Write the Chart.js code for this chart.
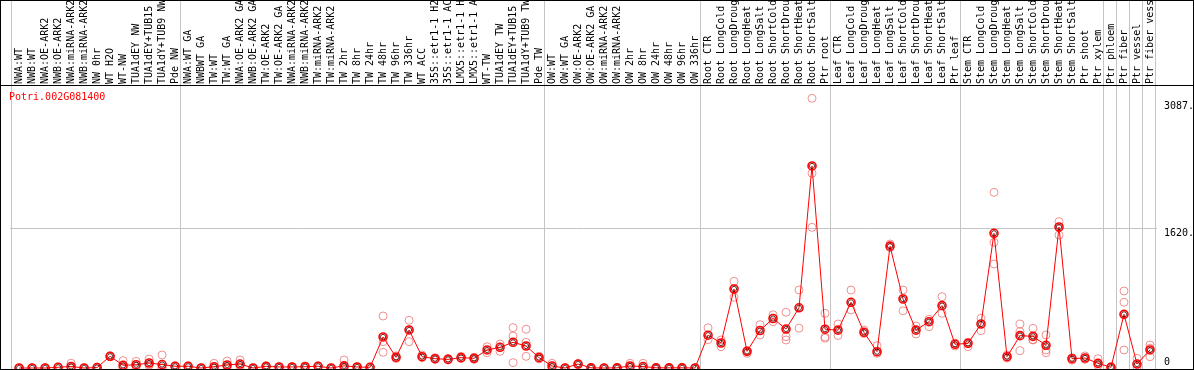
<!DOCTYPE html>
<html>
<head>
<meta charset="utf-8">
<script src="https://cdn.jsdelivr.net/npm/chart.js@4/dist/chart.umd.min.js"></script>
<style>
html,body{margin:0;padding:0;background:#fff;}
#c{display:block;}
</style>
</head>
<body>
<canvas id="c" width="1194" height="370"></canvas>
<script>
const geneName = 'Potri.002G081400';

const categories = [
 'NWA:WT','NWB:WT','NWA:OE-ARK2','NWB:OE-ARK2','NWA:miRNA-ARK2','NWB:miRNA-ARK2','NW 0hr','WT H2O','WT-NW','TUA1dEY NW','TUA1dEY+TUB15 NW','TUA1dY+TUB9 NW','Pde NW',
 'NWA:WT GA','NWBWT GA','TW:WT','TW:WT GA','NWA:OE-ARK2 GA','NWB:OE-ARK2 GA','TW:OE-ARK2','TW:OE-ARK2 GA','NWA:miRNA-ARK2','NWB:miRNA-ARK2','TW:miRNA-ARK2','TW:miRNA-ARK2','TW 2hr','TW 8hr','TW 24hr','TW 48hr','TW 96hr','TW 336hr','WT ACC','35S::etr1-1 H2O','35S::etr1-1 ACC','LMX5::etr1-1 H2O','LMX5::etr1-1 ACC','WT-TW','TUA1dEY TW','TUA1dEY+TUB15 TW','TUA1dY+TUB9 TW','Pde TW',
 'OW:WT','OW:WT GA','OW:OE-ARK2','OW:OE-ARK2 GA','OW:miRNA-ARK2','OW:miRNA-ARK2','OW 2hr','OW 8hr','OW 24hr','OW 48hr','OW 96hr','OW 336hr',
 'Root CTR','Root LongCold','Root LongDrought','Root LongHeat','Root LongSalt','Root ShortCold','Root ShortDrought','Root ShortHeat','Root ShortSalt','Ptr root',
 'Leaf CTR','Leaf LongCold','Leaf LongDrought','Leaf LongHeat','Leaf LongSalt','Leaf ShortCold','Leaf ShortDrought','Leaf ShortHeat','Leaf ShortSalt','Ptr leaf',
 'Stem CTR','Stem LongCold','Stem LongDrought','Stem LongHeat','Stem LongSalt','Stem ShortCold','Stem ShortDrought','Stem ShortHeat','Stem ShortSalt','Ptr shoot','Ptr xylem',
 'Ptr phloem','Ptr fiber','Ptr vessel','Ptr fiber vessel'
];

const meanValues = [
 0,0,0,8,18,0,5,136,31,38,58,40,20,
 20,0,15,35,46,0,19,12,12,15,20,0,25,12,8,360,124,441,131,108,100,120,112,209,240,298,255,120,
 23,0,46,2,0,2,23,17,2,2,2,0,
 380,290,916,193,435,574,452,698,2343,450,
 439,762,414,189,1413,800,439,537,723,275,
 286,510,1562,131,375,367,263,1635,108,116,54,
 8,622,46,209
];

const replicateValues = [
 [0,0],[0,0],[0,0],[5,12],[55,0,0],[0,0],[0,10],[140,130],[85,5,5],[77,20,18],[104,40,30],[151,0,0],[25,15],
 [25,15],[0,0],[54,0,0],[81,15,10],[93,30,15],[0,0],[25,12],[15,8],[15,8],[25,8],[25,15],[0,0],[93,0,0],[15,8],[10,5],[603,305,182],[140,110],[553,441,305],[150,120],[120,100],[110,95],[135,110],[125,100],[247,177],[278,193],[468,371,62],[449,298,135],[136,105],
 [54,0],[0,0],[50,40],[0,5],[0,0],[0,5],[54,10,5],[54,0],[0,5],[0,5],[0,5],[0,0],
 [466,329],[325,247],[1005,820],[170,200],[502,383],[617,537],[646,363,325],[905,462],[3127,2258,1631],[634,360,345],
 [510,377],[904,673],[440,400],[259,170],[1438,1395],[904,663],[487,394],[565,479],[827,634],[255,290],
 [247,300],[576,433],[2037,1457,1206],[150,115],[510,421,201],[460,325,330],[383,209,177],[1697,1542],[90,120],[140,100],[108,30],
 [0,15],[893,762,209],[112,10],[267,131,230]
];

// group boundaries: separator drawn after these category indices
const groupEnds = [-1, 12, 40, 52, 62, 72, 83, 84, 85, 86, 87];

const yTickValues = [0, 1620, 3087];
const yTickLabels = ['0', '1620.', '3087.'];
const yMax = 3270;

const meanData = meanValues.map((v, i) => ({x: i, y: v}));
const repData = [];
replicateValues.forEach((arr, i) => arr.forEach(v => repData.push({x: i, y: v})));

const MONO = '"DejaVu Sans Mono", "Liberation Mono", monospace';

const framePlugin = {
  id: 'frame',
  beforeDraw(chart) {
    const ctx = chart.ctx;
    ctx.save();
    ctx.fillStyle = '#fff';
    ctx.fillRect(0, 0, chart.width, chart.height);
    const xs = chart.scales.x;
    ctx.strokeStyle = '#c4c4c4';
    ctx.lineWidth = 1;
    groupEnds.forEach(g => {
      const px = Math.round(xs.getPixelForValue(g + 0.38)) + 0.5;
      ctx.beginPath();
      ctx.moveTo(px, 0);
      ctx.lineTo(px, chart.height);
      ctx.stroke();
    });
    ctx.restore();
  },
  afterDraw(chart) {
    const ctx = chart.ctx;
    const ys = chart.scales.y;
    ctx.save();
    ctx.strokeStyle = '#000';
    ctx.lineWidth = 1;
    ctx.strokeRect(0.5, 0.5, chart.width - 1, chart.height - 1);
    ctx.beginPath();
    ctx.moveTo(0, 85.5);
    ctx.lineTo(chart.width, 85.5);
    ctx.stroke();
    ctx.fillStyle = '#ff0000';
    ctx.font = '10px ' + MONO;
    ctx.textBaseline = 'middle';
    ctx.textAlign = 'left';
    ctx.fillText(geneName, 9, 97);
    ctx.fillStyle = '#000';
    yTickValues.forEach((v, i) => {
      const py = ys.getPixelForValue(v);
      ctx.textBaseline = v === 0 ? 'bottom' : 'top';
      ctx.fillText(yTickLabels[i], 1164, v === 0 ? py - 1 : py);
    });
    ctx.restore();
  }
};

new Chart(document.getElementById('c'), {
  type: 'line',
  data: {
    datasets: [
      {
        label: 'replicates',
        data: repData,
        showLine: false,
        pointStyle: 'circle',
        pointRadius: 4,
        pointBorderWidth: 1,
        pointBorderColor: 'rgba(235,110,110,0.75)',
        pointBackgroundColor: 'rgba(0,0,0,0)',
        order: 3,
        clip: false
      },
      {
        label: geneName,
        data: meanData,
        borderColor: '#ff0000',
        borderWidth: 1,
        pointStyle: 'circle',
        pointRadius: 4,
        pointBorderWidth: 1.6,
        pointBorderColor: '#ff0000',
        pointBackgroundColor: 'rgba(0,0,0,0)',
        tension: 0,
        order: 2,
        clip: false
      },
      {
        label: 'inner',
        data: meanData,
        showLine: false,
        pointStyle: 'circle',
        pointRadius: 2.6,
        pointBorderWidth: 0.8,
        pointBorderColor: '#400000',
        pointBackgroundColor: 'rgba(0,0,0,0)',
        order: 1,
        clip: false
      }
    ]
  },
  options: {
    responsive: false,
    animation: false,
    devicePixelRatio: 1,
    layout: {autoPadding: false, padding: {left: 10, top: 0, right: 0, bottom: 2}},
    plugins: {legend: {display: false}, tooltip: {enabled: false}, title: {display: false}},
    scales: {
      x: {
        type: 'linear',
        position: 'top',
        min: -0.7,
        max: 87.5,
        afterBuildTicks: s => { s.ticks = categories.map((c, i) => ({value: i})); },
        afterFit: s => { s.height = 86; s.paddingLeft = 0; s.paddingRight = 0; },
        ticks: {
          autoSkip: false,
          maxRotation: 90,
          minRotation: 90,
          padding: 2,
          labelOffset: 12,
          color: '#000',
          font: {family: MONO, size: 10},
          callback: v => categories[v]
        },
        grid: {display: false, drawTicks: false},
        border: {display: false}
      },
      y: {
        type: 'linear',
        position: 'right',
        min: 0,
        max: yMax,
        afterBuildTicks: s => { s.ticks = yTickValues.map(v => ({value: v})); },
        afterFit: s => { s.width = 37.5; s.paddingTop = 0; s.paddingBottom = 0; },
        ticks: {display: false},
        grid: {
          drawTicks: false,
          color: c => (c.tick && c.tick.value === 1620) ? '#c4c4c4' : 'rgba(0,0,0,0)'
        },
        border: {display: false}
      }
    }
  },
  plugins: [framePlugin]
});
</script>
</body>
</html>
